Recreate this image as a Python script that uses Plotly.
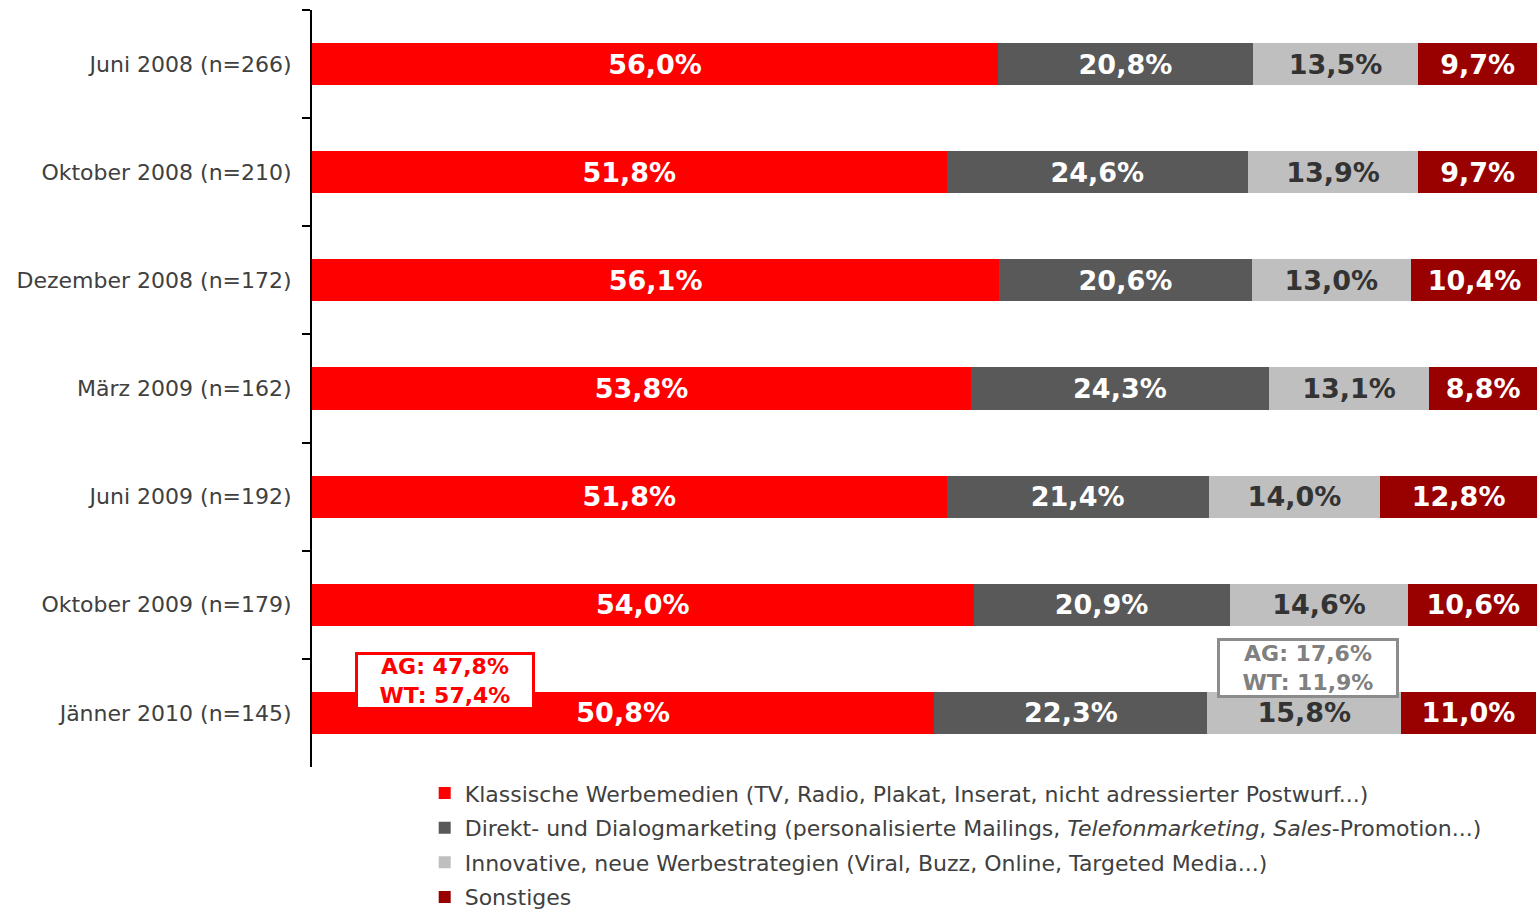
import plotly.graph_objects as go

categories = ["Juni 2008 (n=266)", "Oktober 2008 (n=210)", "Dezember 2008 (n=172)",
              "März 2009 (n=162)", "Juni 2009 (n=192)", "Oktober 2009 (n=179)",
              "Jänner 2010 (n=145)"]
klassisch = [56.0, 51.8, 56.1, 53.8, 51.8, 54.0, 50.8]
direkt = [20.8, 24.6, 20.6, 24.3, 21.4, 20.9, 22.3]
innovativ = [13.5, 13.9, 13.0, 13.1, 14.0, 14.6, 15.8]
sonstiges = [9.7, 9.7, 10.4, 8.8, 12.8, 10.6, 11.0]

series_names = [
    "Klassische Werbemedien (TV, Radio, Plakat, Inserat, nicht adressierter Postwurf...)",
    "Direkt- und Dialogmarketing (personalisierte Mailings, <i>Telefonmarketing</i>, <i>Sales</i>-Promotion...)",
    "Innovative, neue Werbestrategien (Viral, Buzz, Online, Targeted Media...)",
    "Sonstiges",
]
series_values = [klassisch, direkt, innovativ, sonstiges]
colors = ["#FF0000", "#595959", "#BFBFBF", "#990000"]
text_colors = ["#FFFFFF", "#FFFFFF", "#333333", "#FFFFFF"]

FONT = "DejaVu Sans"

def fmt(v):
    return f"{v:.1f}".replace(".", ",") + "%"

fig = go.Figure()
for i, (name, vals) in enumerate(zip(series_names, series_values)):
    fig.add_trace(go.Bar(
        y=categories, x=vals, orientation="h", name=name,
        marker=dict(color=colors[i], line=dict(width=0)),
        text=[fmt(v) for v in vals], textposition="inside",
        insidetextanchor="middle", constraintext="none",
        textfont=dict(family=FONT, size=27, color=text_colors[i], weight="bold"),
        legendgroup=f"g{i}", hoverinfo="skip",
    ))

fig.update_layout(
    barmode="stack", bargap=0.61,
    width=1537, height=911,
    margin=dict(l=312, r=0, t=10, b=144, autoexpand=False),
    plot_bgcolor="white", paper_bgcolor="white",
    font=dict(family=FONT, size=22, color="#404040"),
    showlegend=True,
    legend=dict(x=0.092, xanchor="left", y=-0.007, yanchor="top",
                font=dict(family=FONT, size=22, color="#404040"),
                tracegroupgap=3, traceorder="grouped", itemwidth=30),
    xaxis=dict(range=[0, 100], visible=False, fixedrange=True),
    yaxis=dict(autorange="reversed", showline=True, linecolor="black", linewidth=2,
               ticks="outside", tickson="boundaries", ticklen=8, tickcolor="black",
               tickwidth=2, ticklabelstandoff=14, showgrid=False, fixedrange=True,
               tickfont=dict(family=FONT, size=22, color="#404040")),
)

fig.add_annotation(xref="x", yref="paper", x=10.86, y=0.1136,
                   xanchor="center", yanchor="middle",
                   text="<b>AG: 47,8%<br>WT: 57,4%</b>", showarrow=False,
                   font=dict(family=FONT, size=22, color="#FF0000"),
                   bgcolor="white", bordercolor="#FF0000", borderwidth=3,
                   borderpad=0, width=174, height=52)
fig.add_annotation(xref="x", yref="paper", x=81.3, y=0.1308,
                   xanchor="center", yanchor="middle",
                   text="<b>AG: 17,6%<br>WT: 11,9%</b>", showarrow=False,
                   font=dict(family=FONT, size=22, color="#808080"),
                   bgcolor="white", bordercolor="#8C8C8C", borderwidth=3,
                   borderpad=0, width=176, height=54)

fig.write_html("out.html", config={"displayModeBar": False},
               post_script="document.body.style.margin='0';document.body.style.overflow='hidden';")
